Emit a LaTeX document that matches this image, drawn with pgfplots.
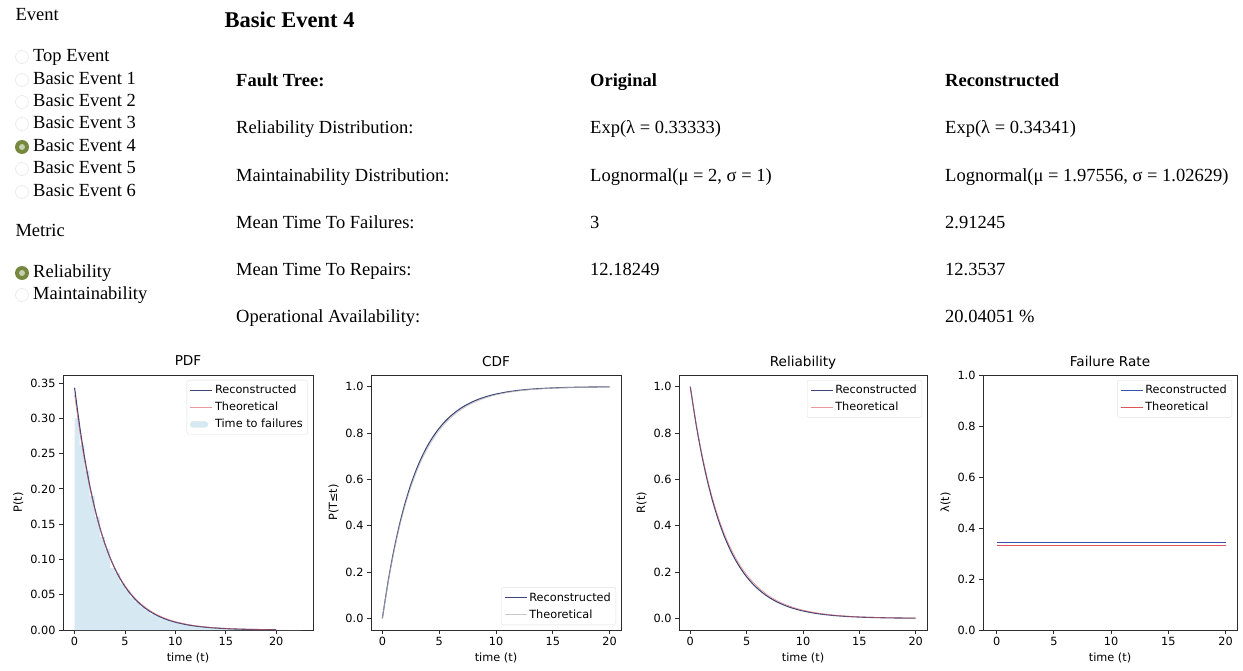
\documentclass[border=0pt]{standalone}
\usepackage{fontspec}
\setmainfont{Liberation Serif}
\newfontfamily\plotfont{DejaVu Sans}
\usepackage{pgfplots}
\usepackage{pgfplotstable}
\pgfplotsset{compat=1.18}

\definecolor{recon}{RGB}{62,70,120}
\definecolor{reconblue}{RGB}{55,80,175}
\definecolor{theo}{RGB}{222,85,90}
\definecolor{histblue}{RGB}{214,232,242}
\definecolor{radiogreen}{RGB}{118,135,62}
\definecolor{radioin}{RGB}{198,206,176}
\definecolor{axgray}{RGB}{45,45,45}

\newcommand\pf{\plotfont\fontsize{11.3}{13}\selectfont}
\newcommand\bodyfs{\fontsize{18.5}{22}\selectfont}

% exponential curves, reconstructed (lambda=0.34341) and theoretical (lambda=1/3)
\pgfplotstableread{
t    pr      pt      cr      ct      rr      rt
0    0.34341 0.33333 0.00000 0.00000 1.00000 1.00000
0.5  0.28923 0.28216 0.15777 0.15352 0.84223 0.84648
1    0.24359 0.23884 0.29065 0.28347 0.70935 0.71653
1.5  0.20516 0.20218 0.40257 0.39347 0.59743 0.60653
2    0.17280 0.17114 0.49683 0.48658 0.50317 0.51342
2.5  0.14553 0.14487 0.57621 0.56540 0.42379 0.43460
3    0.12257 0.12263 0.64308 0.63212 0.35692 0.36788
3.5  0.10323 0.10380 0.69939 0.68860 0.30061 0.31140
4    0.08695 0.08787 0.74682 0.73640 0.25318 0.26360
4.5  0.07323 0.07438 0.78676 0.77687 0.21324 0.22313
5    0.06167 0.06296 0.82040 0.81112 0.17960 0.18888
5.5  0.05194 0.05329 0.84874 0.84012 0.15126 0.15988
6    0.04375 0.04511 0.87260 0.86466 0.12740 0.13534
6.5  0.03685 0.03819 0.89270 0.88544 0.10730 0.11456
7    0.03103 0.03232 0.90963 0.90303 0.09037 0.09697
7.5  0.02614 0.02736 0.92389 0.91791 0.07611 0.08209
8    0.02201 0.02316 0.93590 0.93052 0.06410 0.06948
8.5  0.01854 0.01961 0.94601 0.94118 0.05399 0.05882
9    0.01562 0.01660 0.95453 0.95021 0.04547 0.04979
9.5  0.01315 0.01405 0.96170 0.95786 0.03830 0.04214
10   0.01108 0.01189 0.96774 0.96433 0.03226 0.03567
11   0.00786 0.00852 0.97712 0.97444 0.02288 0.02556
12   0.00557 0.00611 0.98377 0.98168 0.01623 0.01832
13   0.00395 0.00437 0.98849 0.98688 0.01151 0.01312
14   0.00280 0.00313 0.99183 0.99060 0.00817 0.00940
15   0.00199 0.00225 0.99421 0.99326 0.00579 0.00674
16   0.00141 0.00161 0.99589 0.99517 0.00411 0.00483
17   0.00100 0.00115 0.99708 0.99654 0.00292 0.00346
18   0.00071 0.00083 0.99793 0.99752 0.00207 0.00248
19   0.00050 0.00059 0.99853 0.99822 0.00147 0.00178
20   0.00036 0.00042 0.99896 0.99873 0.00104 0.00127
}\curves

% histogram of times to failure (density)
\pgfplotstableread{
x    y
0    0.300
0.5  0.262
1    0.226
1.5  0.190
2    0.160
2.5  0.132
3    0.115
3.5  0.088
4    0.081
4.5  0.066
5    0.057
5.5  0.046
6    0.040
6.5  0.033
7    0.028
7.5  0.022
8    0.020
8.5  0.016
9    0.014
9.5  0.011
10   0.010
10.5 0.008
11   0.0075
11.5 0.006
12   0.005
12.5 0.0045
13   0.0035
13.5 0.003
14   0.0025
14.5 0.002
15   0.0018
15.5 0.0014
16   0.0012
16.5 0.0010
17   0.0008
17.5 0.0007
18   0.0005
18.5 0.0004
19   0.0004
19.5 0.0003
20   0.0002
20.5 0.0002
21   0.0001
21.5 0.0000
22   0.0001
22.5 0.0001
}\hist

\pgfplotsset{
  mpl/.style={
    scale only axis, height=255pt,
    axis line style={axgray, line width=0.9pt},
    tick pos=left, tick align=outside, major tick length=4pt,
    major tick style={axgray, line width=0.9pt},
    tick label style={font=\pf},
    label style={font=\pf},
    title style={font=\plotfont\fontsize{13.6}{16}\selectfont, at={(0.5,1)}, anchor=base, yshift=3pt},
    xtick={0,5,10,15,20}, xlabel={time (t)},
    /pgf/number format/assume math mode=true,
    legend image code/.code={\draw[##1] (0pt,0pt) -- (22pt,0pt);},
    legend style={font=\pf, draw=black!12, rounded corners=2pt,
      legend cell align=left, row sep=3pt, inner sep=3pt},
  },
  onedec/.style={yticklabel style={/pgf/number format/.cd, fixed, fixed zerofill, precision=1}},
}

\begin{document}
\begin{tikzpicture}
\path[use as bounding box] (0,0) rectangle (1243pt,-671pt);

% ---- left selector panel
\node[anchor=base west, font=\bodyfs] at (12pt,-21pt) {Event};
\foreach \lab/\yy in {Top Event/62, Basic Event 1/85, Basic Event 2/107, Basic Event 3/129,
                      Basic Event 4/152, Basic Event 5/174, Basic Event 6/197}
  \node[anchor=base west, font=\bodyfs, inner sep=0pt] at (33pt,-\yy pt) {\lab};
\node[anchor=base west, font=\bodyfs] at (12pt,-237pt) {Metric};
\node[anchor=base west, font=\bodyfs, inner sep=0pt] at (33pt,-278pt) {Reliability};
\node[anchor=base west, font=\bodyfs, inner sep=0pt] at (33pt,-300pt) {Maintainability};
\foreach \yy in {57,80,102,124,169,192,295}
  \draw[black!8, line width=0.8pt] (22pt,-\yy pt) circle (6.5pt);
\foreach \yy in {147,273} {
  \fill[radiogreen] (22pt,-\yy pt) circle (7pt);
  \fill[radioin] (22pt,-\yy pt) circle (3pt);
}

% ---- info table
\node[anchor=base west, font=\fontsize{22.5}{26}\selectfont\bfseries] at (221pt,-28pt) {Basic Event 4};
\begin{scope}[every node/.style={anchor=base west, font=\bodyfs, inner sep=0pt}]
\node at (236pt,-87pt) {\bfseries Fault Tree:};
\node at (590pt,-87pt) {\bfseries Original};
\node at (945pt,-87pt) {\bfseries Reconstructed};
\node at (236pt,-134pt) {Reliability Distribution:};
\node at (590pt,-134pt) {Exp(λ = 0.33333)};
\node at (945pt,-134pt) {Exp(λ = 0.34341)};
\node at (236pt,-182pt) {Maintainability Distribution:};
\node at (590pt,-182pt) {Lognormal(μ = 2, σ = 1)};
\node at (945pt,-182pt) {Lognormal(μ = 1.97556, σ = 1.02629)};
\node at (236pt,-229pt) {Mean Time To Failures:};
\node at (590pt,-229pt) {3};
\node at (945pt,-229pt) {2.91245};
\node at (236pt,-276pt) {Mean Time To Repairs:};
\node at (590pt,-276pt) {12.18249};
\node at (945pt,-276pt) {12.3537};
\node at (236pt,-323pt) {Operational Availability:};
\node at (945pt,-323pt) {20.04051 \%};
\end{scope}

% ---- PDF
\begin{axis}[mpl, at={(63pt,-630pt)}, anchor=south west, width=250pt,
  title={PDF}, ylabel={P(t)},
  xmin=-1.15, xmax=23.65, ymin=0, ymax=0.3615,
  ytick={0,0.05,...,0.35},
  yticklabel style={/pgf/number format/.cd, fixed, fixed zerofill, precision=2},
  legend style={at={(1,1)}, xshift=-5pt, yshift=-5pt, anchor=north east}]
\addplot[const plot, fill=histblue, draw=none, forget plot] table[x=x, y=y] {\hist} \closedcycle;
\addplot[recon, line width=1.1pt, smooth] table[x=t, y=pr] {\curves};
\addplot[theo, line width=0.7pt, opacity=0.6, smooth] table[x=t, y=pt] {\curves};
\addlegendimage{area legend, fill=histblue, draw=histblue}
\legend{Reconstructed, Theoretical, Time to failures}
\end{axis}

% ---- CDF
\begin{axis}[mpl, onedec, at={(371pt,-630pt)}, anchor=south west, width=250pt,
  title={CDF}, ylabel={P(T≤t)},
  xmin=-1, xmax=21, ymin=-0.05, ymax=1.05,
  ytick={0,0.2,...,1.0},
  legend style={at={(1,0)}, xshift=-5pt, yshift=5pt, anchor=south east}]
\addplot[recon, line width=1.1pt, smooth] table[x=t, y=cr] {\curves};
\addplot[black!30, line width=0.9pt, opacity=0.7, smooth] table[x=t, y=ct] {\curves};
\legend{Reconstructed, Theoretical}
\end{axis}

% ---- Reliability
\begin{axis}[mpl, onedec, at={(679pt,-630pt)}, anchor=south west, width=248pt,
  title={Reliability}, ylabel={R(t)},
  xmin=-1, xmax=21, ymin=-0.05, ymax=1.05,
  ytick={0,0.2,...,1.0},
  legend style={at={(1,1)}, xshift=-5pt, yshift=-5pt, anchor=north east}]
\addplot[recon, line width=1.1pt, smooth] table[x=t, y=rr] {\curves};
\addplot[theo, line width=0.7pt, opacity=0.6, smooth] table[x=t, y=rt] {\curves};
\legend{Reconstructed, Theoretical}
\end{axis}

% ---- Failure rate
\begin{axis}[mpl, onedec, at={(983pt,-630pt)}, anchor=south west, width=254pt,
  title={Failure Rate}, ylabel={λ(t)},
  xmin=-1.2, xmax=21, ymin=0, ymax=1,
  ytick={0,0.2,...,1.0},
  legend style={at={(1,1)}, xshift=-5pt, yshift=-5pt, anchor=north east}]
\addplot[reconblue, line width=1.0pt] coordinates {(0,0.34341) (20,0.34341)};
\addplot[theo, line width=1.0pt] coordinates {(0,0.33333) (20,0.33333)};
\legend{Reconstructed, Theoretical}
\end{axis}
\end{tikzpicture}
\end{document}
